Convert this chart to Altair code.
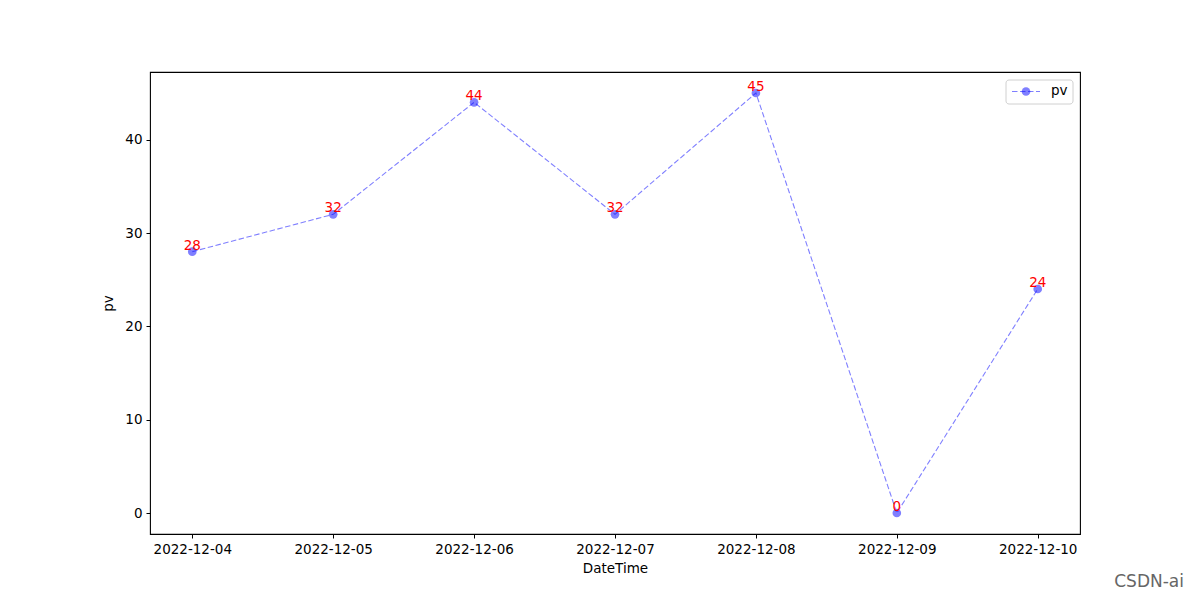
import altair as alt
import pandas as pd

dates = ["2022-12-04", "2022-12-05", "2022-12-06", "2022-12-07",
         "2022-12-08", "2022-12-09", "2022-12-10"]
pv = [28, 32, 44, 32, 45, 0, 24]
y_ticks = [0, 10, 20, 30, 40]
legend_label = ["pv"]
watermark = ["CSDN-ai"]

df = pd.DataFrame({"DateTime": dates, "pv": pv})

FONT = "DejaVu Sans"
W, H = 930, 462

x_enc = alt.X("DateTime:O", sort=dates,
              scale=alt.Scale(type="point", padding=0.3),
              axis=alt.Axis(title="DateTime", labelAngle=0, grid=False,
                            domain=False, tickColor="black", tickSize=4,
                            labelColor="black", labelFontSize=13.5,
                            labelPadding=4, titleFontSize=13.5,
                            titleFontWeight="normal", titlePadding=6,
                            titleColor="black", labelFont=FONT, titleFont=FONT))
y_enc = alt.Y("pv:Q",
              scale=alt.Scale(domain=[-2.25, 47.25], nice=False, zero=False),
              axis=alt.Axis(title="pv", values=y_ticks, grid=False, domain=False,
                            tickColor="black", tickSize=4, labelColor="black",
                            labelFontSize=13.5, labelPadding=4,
                            titleFontSize=13.5, titleFontWeight="normal",
                            titlePadding=9, titleColor="black",
                            labelFont=FONT, titleFont=FONT))

base = alt.Chart(df)

line = base.mark_line(color="blue", opacity=0.5, strokeWidth=1.1,
                      strokeDash=[5.5, 2.5]).encode(x=x_enc, y=y_enc)
points = base.mark_point(filled=True, shape="circle", color="blue",
                         opacity=0.5, size=75).encode(x=x_enc, y=y_enc)
labels = base.mark_text(color="red", fontSize=13.5, font=FONT,
                        baseline="alphabetic", dy=-2).encode(
    x=x_enc, y=y_enc, text="pv:Q")

# legend box (top right)
leg_df = pd.DataFrame({"label": legend_label})
leg = alt.Chart(leg_df)
leg_box = leg.mark_rect(fill="white", stroke="#cccccc", strokeWidth=1,
                        cornerRadius=3, opacity=0.9).encode(
    x=alt.value(856), x2=alt.value(923), y=alt.value(8), y2=alt.value(32))
leg_line = leg.mark_rule(color="blue", opacity=0.5, strokeWidth=1.1,
                         strokeDash=[5.5, 2.5]).encode(
    x=alt.value(862), x2=alt.value(890), y=alt.value(19.5))
leg_pt = leg.mark_point(filled=True, shape="circle", color="blue",
                        opacity=0.5, size=75).encode(
    x=alt.value(876), y=alt.value(19.5))
leg_txt = leg.mark_text(align="left", baseline="middle", fontSize=13.5,
                        font=FONT, color="black").encode(
    x=alt.value(901), y=alt.value(19), text="label:N")

wm_df = pd.DataFrame({"t": watermark})
wm = alt.Chart(wm_df).mark_text(align="right", baseline="middle", fontSize=17,
                                font=FONT, color="#666666").encode(
    x=alt.value(1034), y=alt.value(510), text="t:N")

chart = alt.layer(line, points, labels, leg_box, leg_line, leg_pt, leg_txt, wm).properties(
    width=W, height=H,
    autosize=alt.AutoSizeParams(type="none"),
    padding={"left": 142, "top": 64, "right": 111, "bottom": 57},
).configure(background="white").configure_view(stroke="black", strokeWidth=1.1)

chart.save("out.html", embed_options={"renderer": "svg", "actions": False})
